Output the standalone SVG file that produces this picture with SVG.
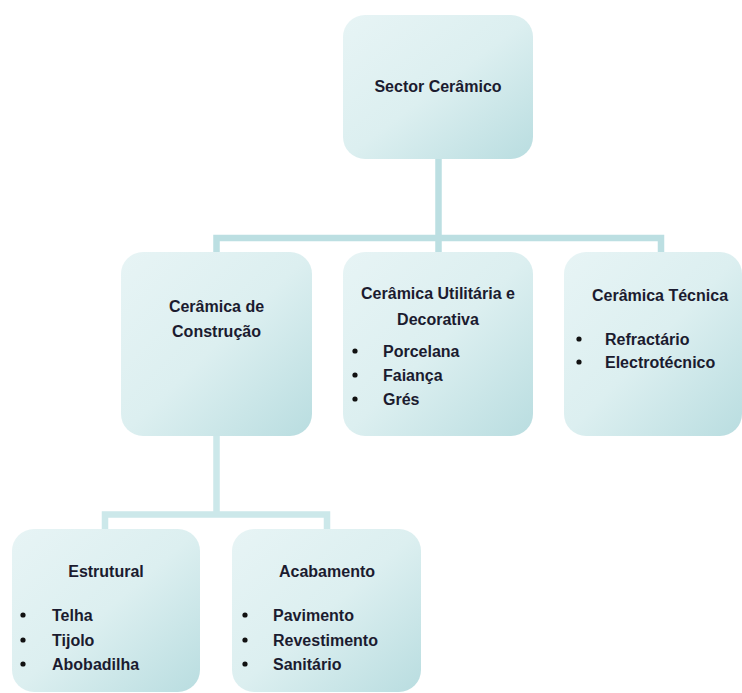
<svg xmlns="http://www.w3.org/2000/svg" width="742" height="693" viewBox="0 0 742 693">
<defs>
<linearGradient id="boxfill" x1="0" y1="0" x2="1" y2="1">
<stop offset="0" stop-color="#e7f4f5"/>
<stop offset="0.5" stop-color="#dcefF0"/>
<stop offset="1" stop-color="#b9dde0"/>
</linearGradient>
</defs>
<style>
.box{fill:url(#boxfill);}
.conn{fill:none;stroke:#bcdfe2;stroke-width:6.5;}
.conn2{fill:none;stroke:#cce8ea;stroke-width:6.5;}
.t{font-family:"Liberation Sans",Arial,sans-serif;font-weight:bold;font-size:16px;fill:#1b1b2f;}
.h{text-anchor:middle;}
.b{fill:#111;}
</style>
<rect width="742" height="693" fill="#ffffff"/>
<g id="connectors">
<path class="conn" d="M438.5,159 V252 M216.5,252 V238 H661 V252"/>
<path class="conn2" d="M216.5,436 V514.5 M105,529 V514.5 H327 V529"/>
</g>
<g id="sector">
<rect class="box" x="343" y="15" width="190" height="144" rx="22"/>
<text class="t h" x="438" y="92">Sector Cerâmico</text>
</g>
<g id="construcao">
<rect class="box" x="121" y="252" width="191" height="184" rx="22"/>
<text class="t h" x="216.5" y="312">Cerâmica de</text>
<text class="t h" x="216.5" y="337">Construção</text>
</g>
<g id="utilitaria">
<rect class="box" x="343" y="252" width="190" height="184" rx="22"/>
<text class="t h" x="438" y="299">Cerâmica Utilitária e</text>
<text class="t h" x="438" y="325">Decorativa</text>
<circle class="b" cx="355" cy="351" r="2.6"/>
<circle class="b" cx="355" cy="375" r="2.6"/>
<circle class="b" cx="355" cy="399" r="2.6"/>
<text class="t" x="383" y="357">Porcelana</text>
<text class="t" x="383" y="381">Faiança</text>
<text class="t" x="383" y="405">Grés</text>
</g>
<g id="tecnica">
<rect class="box" x="564" y="252" width="178" height="184" rx="22"/>
<text class="t h" x="660" y="301">Cerâmica Técnica</text>
<circle class="b" cx="579" cy="339" r="2.6"/>
<circle class="b" cx="579" cy="362" r="2.6"/>
<text class="t" x="605" y="345">Refractário</text>
<text class="t" x="605" y="368">Electrotécnico</text>
</g>
<g id="estrutural">
<rect class="box" x="12" y="529" width="188" height="163" rx="22"/>
<text class="t h" x="106" y="577">Estrutural</text>
<circle class="b" cx="23" cy="615" r="2.6"/>
<circle class="b" cx="23" cy="640" r="2.6"/>
<circle class="b" cx="23" cy="664" r="2.6"/>
<text class="t" x="52" y="621">Telha</text>
<text class="t" x="52" y="646">Tijolo</text>
<text class="t" x="52" y="670">Abobadilha</text>
</g>
<g id="acabamento">
<rect class="box" x="232" y="529" width="189" height="163" rx="22"/>
<text class="t h" x="327" y="577">Acabamento</text>
<circle class="b" cx="245" cy="615" r="2.6"/>
<circle class="b" cx="245" cy="640" r="2.6"/>
<circle class="b" cx="245" cy="664" r="2.6"/>
<text class="t" x="273" y="621">Pavimento</text>
<text class="t" x="273" y="646">Revestimento</text>
<text class="t" x="273" y="670">Sanitário</text>
</g>
</svg>
